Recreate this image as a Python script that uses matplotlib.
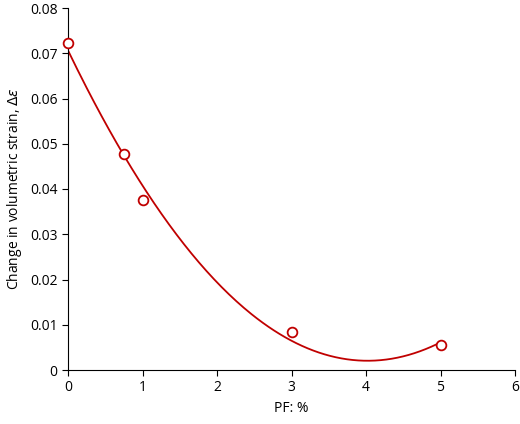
import numpy as np
import matplotlib
matplotlib.use("Agg")
import matplotlib.pyplot as plt

plt.rcParams['font.family'] = ['Open Sans', 'DejaVu Sans']

pf = [0, 0.75, 1, 3, 5]
strain = [0.0722, 0.0477, 0.0375, 0.0085, 0.0055]

coef = np.polyfit(pf, strain, 2)
xs = np.linspace(0, 5, 200)

fig = plt.figure(figsize=(5.2, 4.24), dpi=100)
ax = fig.add_axes([68 / 520, 54 / 424, 447 / 520, 362 / 424])
red = '#c00000'
ax.plot(xs, np.polyval(coef, xs), color=red, lw=1.3)
ax.plot(pf, strain, 'o', mfc='white', mec=red, mew=1.3, ms=7, clip_on=False, zorder=3)

ax.set_xlim(0, 6)
ax.set_ylim(0, 0.08)
ax.set_xticks(range(7))
ax.set_yticks(np.arange(0, 0.081, 0.01))
ax.set_yticklabels(['0'] + [f'{v:.2f}' for v in np.arange(0.01, 0.081, 0.01)])
ax.spines['top'].set_visible(False)
ax.spines['right'].set_visible(False)
ax.tick_params(labelsize=10, direction='out', length=4)
ax.set_xlabel('PF: %', fontsize=10)
ax.set_ylabel('Change in volumetric strain, $\\Delta\\varepsilon$', fontsize=10)

fig.savefig('out.png', dpi=100)
